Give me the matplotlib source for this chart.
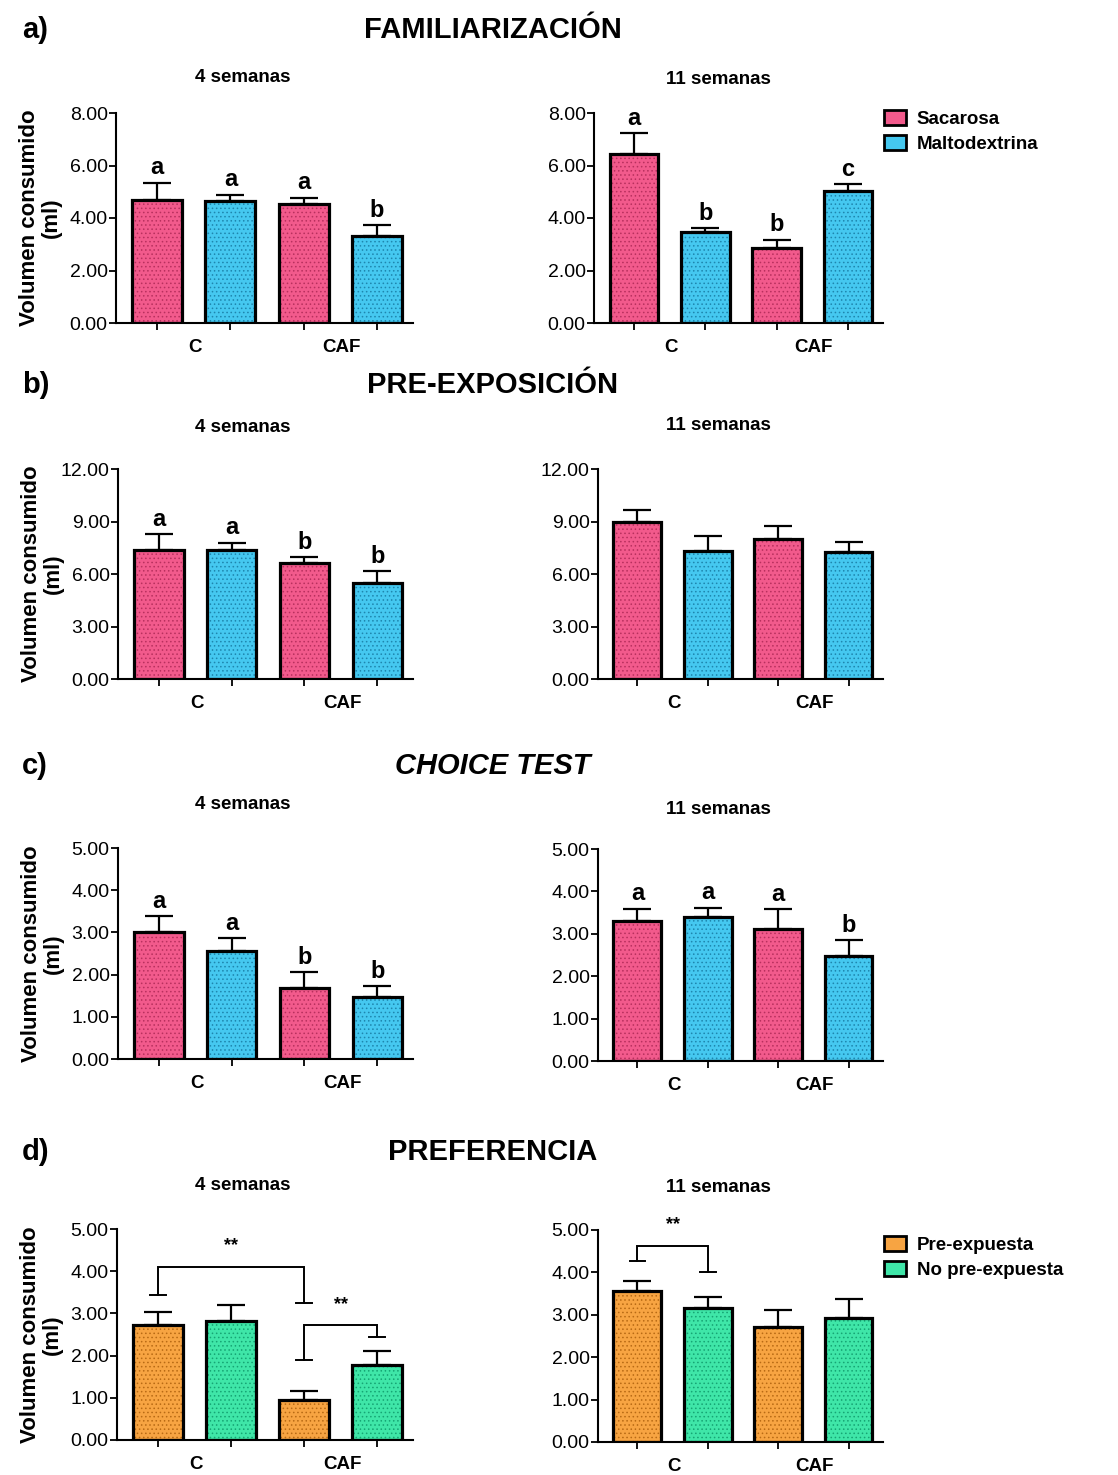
import matplotlib
matplotlib.use("Agg")
import matplotlib.pyplot as plt
from matplotlib.patches import Patch

plt.rcParams['font.family'] = ['Liberation Sans', 'DejaVu Sans']
plt.rcParams['hatch.linewidth'] = 0.6

# ---------------- data ----------------
groups = ["C", "CAF"]
sugar_series = ["Sacarosa", "Maltodextrina"]
pref_series = ["Pre-expuesta", "No pre-expuesta"]

# bar order: C-first, C-second, CAF-first, CAF-second
fam_4_mean = [4.68, 4.64, 4.55, 3.32]
fam_4_err = [0.67, 0.25, 0.22, 0.41]
fam_4_letters = ["a", "a", "a", "b"]
fam_11_mean = [6.45, 3.45, 2.87, 5.03]
fam_11_err = [0.78, 0.17, 0.31, 0.26]
fam_11_letters = ["a", "b", "b", "c"]

pre_4_mean = [7.38, 7.38, 6.62, 5.48]
pre_4_err = [0.89, 0.41, 0.34, 0.68]
pre_4_letters = ["a", "a", "b", "b"]
pre_11_mean = [8.99, 7.34, 8.02, 7.26]
pre_11_err = [0.69, 0.83, 0.73, 0.57]
pre_11_letters = ["", "", "", ""]

cho_4_mean = [3.01, 2.57, 1.68, 1.46]
cho_4_err = [0.37, 0.30, 0.38, 0.26]
cho_4_letters = ["a", "a", "b", "b"]
cho_11_mean = [3.31, 3.40, 3.12, 2.47]
cho_11_err = [0.28, 0.22, 0.46, 0.38]
cho_11_letters = ["a", "a", "a", "b"]

prf_4_mean = [2.73, 2.83, 0.94, 1.77]
prf_4_err = [0.30, 0.37, 0.21, 0.33]
prf_11_mean = [3.57, 3.15, 2.71, 2.92]
prf_11_err = [0.22, 0.28, 0.40, 0.46]

# significance brackets: (bar i, bar j, top line, left leg end, right leg end, label)
prf_4_brackets = [(0, 2, 4.11, 3.44, 3.24, "**"), (2, 3, 2.72, 1.90, 2.44, "**")]
prf_11_brackets = [(0, 1, 4.63, 4.27, 4.00, "**")]

# ---------------- style ----------------
PINK, PINK_DOT = "#F25A8C", "#B8305E"
BLUE, BLUE_DOT = "#45C8F0", "#1E86AE"
ORANGE, ORANGE_DOT = "#F7A442", "#B86A14"
GREEN, GREEN_DOT = "#3FE6A8", "#16A574"

W, H = 1118, 1475
fig = plt.figure(figsize=(W / 100, H / 100), dpi=100)


def px_axes(x0, x1, ytop, ybot):
    return fig.add_axes([x0 / W, 1 - ybot / H, (x1 - x0) / W, (ybot - ytop) / H])


def draw_panel(ax, means, errs, ymax, step, colors, dots, letters=None,
               brackets=None, ylabel=True):
    xs = list(range(len(means)))
    ax.bar(xs, means, width=0.68, color=colors, edgecolor=dots, linewidth=0,
           hatch="....", zorder=2)
    ax.bar(xs, means, width=0.68, fill=False, edgecolor="black",
           linewidth=2.3, zorder=3)
    ax.errorbar(xs, means, yerr=[[0] * len(errs), errs], fmt="none",
                ecolor="black", elinewidth=1.6, capsize=10, capthick=1.6,
                zorder=1)
    ax.set_xlim(-0.56, 3.49)
    ax.set_ylim(0, ymax)
    ticks = [k * step for k in range(int(round(ymax / step)) + 1)]
    ax.set_yticks(ticks)
    ax.set_yticklabels([f"{t:.2f}" for t in ticks], fontsize=14)
    ax.set_xticks(xs)
    ax.set_xticklabels([])
    ax.tick_params(axis="both", direction="out", width=1.3, length=5,
                   color="black", pad=1)
    for s in ["top", "right"]:
        ax.spines[s].set_visible(False)
    for s in ["left", "bottom"]:
        ax.spines[s].set_linewidth(1.5)
    for gi, g in enumerate(groups):
        ax.annotate(g, (0.5 + 2 * gi, 0), xycoords=ax.get_xaxis_transform(),
                    xytext=(1, -17.5), textcoords="offset points",
                    ha="center", va="center", fontsize=13.5, fontweight="bold")
    if letters:
        for x, m, e, lab in zip(xs, means, errs, letters):
            if lab:
                ax.annotate(lab, (x, m + e), xytext=(0, 6),
                            textcoords="offset points", ha="center",
                            va="baseline", fontsize=17, fontweight="bold")
    if brackets:
        cw = 0.11
        for i, j, top, yl, yr, lab in brackets:
            ax.plot([i, i, j, j], [yl, top, top, yr], color="black", lw=1.4,
                    solid_joinstyle="miter", clip_on=False, zorder=4)
            ax.plot([i - cw, i + cw], [yl, yl], color="black", lw=1.4, zorder=4)
            ax.plot([j - cw, j + cw], [yr, yr], color="black", lw=1.4, zorder=4)
            ax.annotate(lab, ((i + j) / 2, top), xytext=(0, 9),
                        textcoords="offset points", ha="center",
                        va="bottom", fontsize=13, fontweight="bold")
    if ylabel:
        ax.text(-0.255, 0.5, "Volumen consumido\n(ml)", rotation=90,
                transform=ax.transAxes, ha="center", va="center",
                fontsize=16, fontweight="bold", linespacing=1.05)


sugar_colors = [PINK, BLUE, PINK, BLUE]
sugar_dots = [PINK_DOT, BLUE_DOT, PINK_DOT, BLUE_DOT]
pref_colors = [ORANGE, GREEN, ORANGE, GREEN]
pref_dots = [ORANGE_DOT, GREEN_DOT, ORANGE_DOT, GREEN_DOT]

rows = [
    dict(lp=(116, 413, 113, 323), rp=(594, 883, 113, 323),
         left=(fam_4_mean, fam_4_err, fam_4_letters, None),
         right=(fam_11_mean, fam_11_err, fam_11_letters, None),
         ymax=8, step=2, title="FAMILIARIZACIÓN", italic=False, tag="a)",
         ty=30, sub=(77, 79), cols=(sugar_colors, sugar_dots)),
    dict(lp=(118, 413, 469, 679), rp=(598, 883, 469, 679),
         left=(pre_4_mean, pre_4_err, pre_4_letters, None),
         right=(pre_11_mean, pre_11_err, pre_11_letters, None),
         ymax=12, step=3, title="PRE-EXPOSICIÓN", italic=False, tag="b)",
         ty=385, sub=(428, 425), cols=(sugar_colors, sugar_dots)),
    dict(lp=(118, 413, 848, 1059), rp=(598, 883, 849, 1061),
         left=(cho_4_mean, cho_4_err, cho_4_letters, None),
         right=(cho_11_mean, cho_11_err, cho_11_letters, None),
         ymax=5, step=1, title="CHOICE TEST", italic=True, tag="c)",
         ty=766, sub=(805, 810), cols=(sugar_colors, sugar_dots)),
    dict(lp=(117, 413, 1229, 1440), rp=(598, 883, 1230, 1442),
         left=(prf_4_mean, prf_4_err, None, prf_4_brackets),
         right=(prf_11_mean, prf_11_err, None, prf_11_brackets),
         ymax=5, step=1, title="PREFERENCIA", italic=False, tag="d)",
         ty=1152, sub=(1186, 1188), cols=(pref_colors, pref_dots)),
]

for r in rows:
    axl = px_axes(*r["lp"])
    axr = px_axes(*r["rp"])
    cols, dots = r["cols"]
    m, e, lt, br = r["left"]
    draw_panel(axl, m, e, r["ymax"], r["step"], cols, dots, lt, br, ylabel=True)
    m, e, lt, br = r["right"]
    draw_panel(axr, m, e, r["ymax"], r["step"], cols, dots, lt, br, ylabel=False)
    fig.text(22 / W, 1 - r["ty"] / H, r["tag"], ha="left", va="center",
             fontsize=21, fontweight="bold")
    fig.text(493 / W, 1 - r["ty"] / H, r["title"], ha="center", va="center",
             fontsize=21, fontweight="bold",
             style="italic" if r["italic"] else "normal")
    fig.text(243 / W, 1 - r["sub"][0] / H, "4 semanas", ha="center",
             va="center", fontsize=13.5, fontweight="bold")
    fig.text(718 / W, 1 - r["sub"][1] / H, "11 semanas", ha="center",
             va="center", fontsize=13.5, fontweight="bold")


def add_legend(labels, colors, ytop):
    handles = [Patch(facecolor=c, edgecolor="black", linewidth=2.0)
               for c in colors]
    fig.legend(handles, labels, loc="upper left",
               bbox_to_anchor=(884 / W, 1 - ytop / H), frameon=False,
               prop=dict(size=13.5, weight="bold"), handlelength=1.15,
               handleheight=0.85, handletextpad=0.6, labelspacing=0.4,
               borderaxespad=0, borderpad=0)


add_legend(sugar_series, [PINK, BLUE], 110)
add_legend(pref_series, [ORANGE, GREEN], 1236)

fig.savefig("out.png", dpi=100, facecolor="white")
